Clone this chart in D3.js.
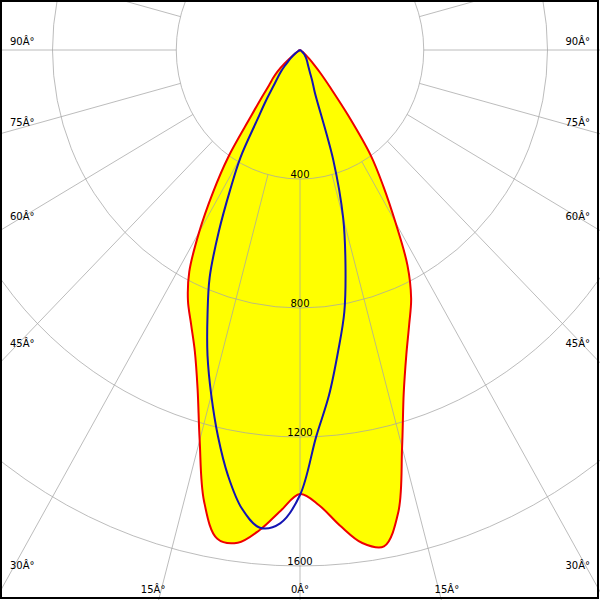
<!DOCTYPE html>
<html>
<head>
<meta charset="utf-8">
<script src="https://cdn.jsdelivr.net/npm/d3@7"></script>
<style>
  html, body { margin: 0; padding: 0; background: #ffffff; }
  svg { display: block; }
  text { font-family: "DejaVu Sans", Verdana, sans-serif; font-size: 10px; fill: #000; }
</style>
</head>
<body>
<div id="chart"></div>
<script>
// ---- data ----
// gamma angles (degrees from nadir)
const gamma = [0, 2.5, 5, 7.5, 10, 12.5, 15, 17.5, 20, 22.5, 25, 27.5, 30, 32.5, 35, 37.5, 40, 42.5, 45, 47.5, 50, 55, 60, 70, 80, 90];
// C0 plane (right, red, filled)
const c0 = [1377, 1413, 1480, 1542, 1563, 1468, 1275, 1115, 1005, 922, 850, 752, 617, 502, 398, 257, 154, 100, 63, 40, 25, 10, 3, 0, 0, 0];
// C180 plane (left, red, filled)
const c180 = [1377, 1430, 1494, 1541, 1539, 1433, 1253, 1101, 994, 920, 857, 775, 652, 524, 402, 265, 194, 148, 123, 98, 65, 20, 6, 0, 0, 0];
// C90 plane (right, blue)
const c90 = [1380, 1200, 1075, 943, 825, 679, 539, 358, 140, 103, 75, 60, 50, 44, 38, 33, 28, 24, 20, 16, 12, 6, 3, 0, 0, 0];
// C270 plane (left, blue)
const c270 = [1380, 1469, 1487, 1435, 1340, 1226, 1108, 994, 874, 763, 621, 489, 385, 259, 192, 141, 113, 92, 70, 50, 38, 18, 6, 0, 0, 0];

const ringValues = [400, 800, 1200, 1600];
const ringLabels = ["400", "800", "1200", "1600"];
const angleTicks = [0, 15, 30, 45, 60, 75, 90];
const angleSuffix = "\u00C2\u00B0"; // as printed in the reference

// ---- layout ----
const W = 600, H = 600;
const cx = 300, cy = 50;
const rY = d3.scaleLinear().domain([0, 1600]).range([0, 516]);
const rX = d3.scaleLinear().domain([0, 1600]).range([0, 495]);
const rad = d => d * Math.PI / 180;

function polar(deg, v) {
  return [cx + rX(v) * Math.sin(rad(deg)), cy + rY(v) * Math.cos(rad(deg))];
}

const svg = d3.select("#chart").append("svg")
  .attr("width", W).attr("height", H);

svg.append("rect").attr("x", 0).attr("y", 0).attr("width", W).attr("height", H).attr("fill", "#fff");

// build polygons: left side (negative angle) from 90 down to 0, then right side 0 to 90
function buildPts(left, right) {
  const pts = [];
  for (let i = gamma.length - 1; i >= 0; i--) pts.push(polar(-gamma[i], left[i]));
  for (let i = 1; i < gamma.length; i++) pts.push(polar(gamma[i], right[i]));
  return pts;
}
const line = d3.line().curve(d3.curveCatmullRom.alpha(0.5));

const redPts = buildPts(c180, c0);
const bluePts = buildPts(c270, c90);

// yellow fill
svg.append("path").attr("d", line(redPts) + "Z")
  .attr("fill", "#ffff00").attr("stroke", "none");

// grid
const grid = svg.append("g").attr("fill", "none").attr("stroke", "#a6a6a6").attr("stroke-opacity", 0.75).attr("stroke-width", 1);
ringValues.forEach(v => {
  grid.append("ellipse").attr("cx", cx).attr("cy", cy).attr("rx", rX(v)).attr("ry", rY(v));
});
d3.range(0, 360, 15).forEach(a => {
  const p1 = polar(a, ringValues[0]);
  const p2 = polar(a, 4000);
  grid.append("line").attr("x1", p1[0]).attr("y1", p1[1]).attr("x2", p2[0]).attr("y2", p2[1]);
});

// ring value labels
ringValues.forEach((v, i) => {
  svg.append("text").attr("x", cx).attr("y", cy + rY(v) - 1)
    .attr("text-anchor", "middle").text(ringLabels[i]);
});

// angle labels
const dx1 = rX(1), dy1 = rY(1);
angleTicks.forEach(a => {
  [-1, 1].forEach(side => {
    if (a === 0 && side === 1) return;
    const dirx = dx1 * Math.sin(rad(a));
    const diry = dy1 * Math.cos(rad(a));
    const tx = dirx > 1e-9 ? 290 / dirx : Infinity;
    const ty = diry > 1e-9 ? 548 / diry : Infinity;
    const t = Math.min(tx, ty);
    const txt = a + angleSuffix;
    if (tx < ty) {
      svg.append("text")
        .attr("x", side < 0 ? 10 : 590)
        .attr("y", cy + t * diry - 5)
        .attr("text-anchor", side < 0 ? "start" : "end")
        .text(txt);
    } else {
      const shift = a === 0 ? 0 : 6;
      svg.append("text")
        .attr("x", cx + side * (t * dirx + shift))
        .attr("y", 593)
        .attr("text-anchor", "middle")
        .text(txt);
    }
  });
});

// curves
svg.append("path").attr("d", line(redPts))
  .attr("fill", "none").attr("stroke", "#ee0000").attr("stroke-width", 2).attr("stroke-linejoin", "round");
svg.append("path").attr("d", line(bluePts))
  .attr("fill", "none").attr("stroke", "#1414b4").attr("stroke-width", 2).attr("stroke-linejoin", "round");

// frame
svg.append("rect").attr("x", 1).attr("y", 1).attr("width", 597).attr("height", 597)
  .attr("fill", "none").attr("stroke", "#000").attr("stroke-width", 2);
</script>
</body>
</html>
